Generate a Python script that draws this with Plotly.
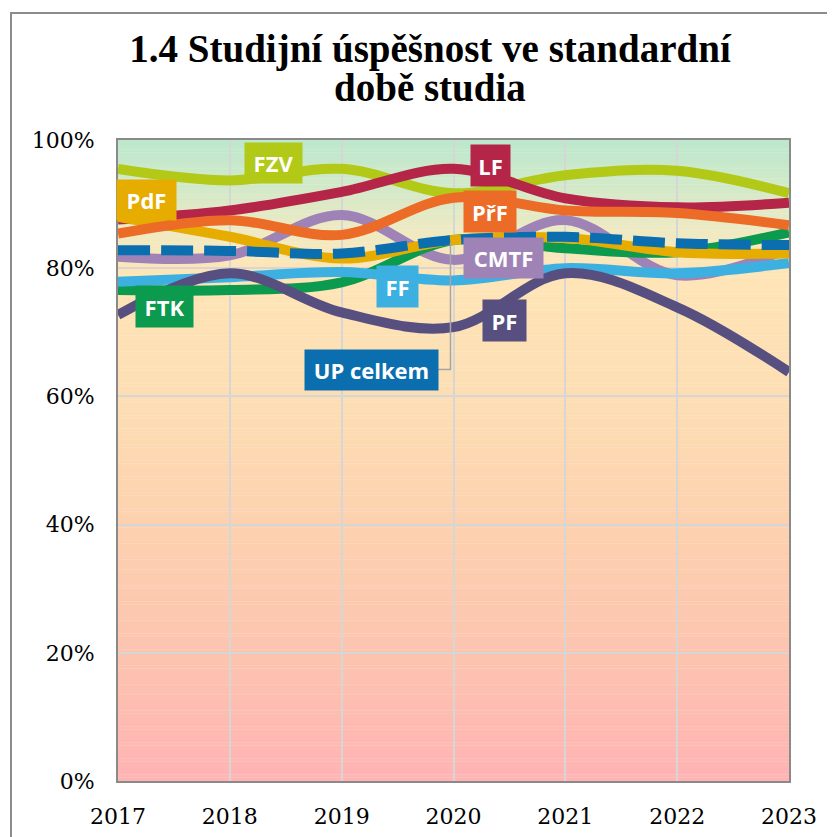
import plotly.graph_objects as go

years = [2017, 2018, 2019, 2020, 2021, 2022, 2023]

series_names = ["CMTF", "FTK", "FZV", "FF", "LF", "PdF", "PF", "PřF", "UP celkem"]
cmtf = [81.8, 82.0, 88.3, 81.3, 87.5, 78.9, 83.1]
ftk = [76.6, 76.6, 77.8, 84.4, 83.1, 82.5, 85.6]
fzv = [95.5, 93.7, 95.5, 91.7, 94.5, 95.2, 91.7]
ff = [77.9, 78.6, 79.4, 78.1, 80.0, 79.2, 80.8]
lf = [87.6, 89.0, 91.9, 95.5, 90.9, 89.5, 90.2]
pdf_ = [88.0, 84.9, 81.5, 84.4, 84.7, 82.5, 82.3]
pf = [72.7, 79.2, 73.1, 70.8, 79.2, 73.9, 63.8]
prf = [85.4, 87.5, 85.2, 91.0, 89.0, 88.6, 86.7]
up = [82.8, 82.7, 82.3, 84.4, 84.9, 83.9, 83.6]

series_values = [cmtf, ftk, fzv, ff, lf, pdf_, pf, prf, up]
colors = ["#9f83b7", "#0b9a4e", "#b2c918", "#3cb1e1", "#b42548",
          "#e6ac00", "#574f80", "#ec6b26", "#0b6eae"]

y_ticks = [0, 20, 40, 60, 80, 100]
y_tick_labels = ["0%", "20%", "40%", "60%", "80%", "100%"]

# label boxes: (name, x, y, width, height)
labels = [
    ("FZV", 2018.393, 96.4, 57, 40),
    ("PdF", 2017.259, 90.6, 59, 40),
    ("FTK", 2017.415, 74.1, 57, 41),
    ("FF", 2019.496, 77.2, 41, 41),
    ("UP celkem", 2019.263, 64.1, 133, 40),
    ("LF", 2020.335, 96.0, 39, 41),
    ("PřF", 2020.330, 88.8, 52, 41),
    ("CMTF", 2020.451, 81.6, 79, 40),
    ("PF", 2020.460, 71.8, 43, 41),
]

fig = go.Figure()

for name, vals, col in zip(series_names, series_values, colors):
    dash = "32px,11px" if name == "UP celkem" else "solid"
    fig.add_trace(go.Scatter(
        x=years, y=vals, mode="lines", name=name,
        line=dict(color=col, width=10, shape="spline", smoothing=1.0, dash=dash),
        showlegend=False,
    ))

# gradient background (decoration)
stops = [
    (0, (255, 179, 179)),
    (20, (252, 196, 175)),
    (40, (253, 209, 175)),
    (60, (253, 222, 180)),
    (80, (254, 229, 182)),
    (86, (238, 234, 195)),
    (92, (212, 233, 200)),
    (100, (188, 232, 204)),
]

def grad(v):
    for (a, ca), (b, cb) in zip(stops[:-1], stops[1:]):
        if a <= v <= b:
            t = (v - a) / (b - a)
            return "rgb(%d,%d,%d)" % tuple(round(ca[i] + (cb[i] - ca[i]) * t) for i in range(3))
    return "rgb(%d,%d,%d)" % stops[-1][1]

shapes = []
step = 0.5
n = int(100 / step)
for i in range(n):
    y0 = i * step
    y1 = y0 + step
    shapes.append(dict(type="rect", xref="x domain", yref="y", x0=0, x1=1,
                       y0=y0, y1=y1 + 0.05, fillcolor=grad(y0 + step / 2),
                       line=dict(width=0), layer="below"))

# leader line for UP celkem
shapes.append(dict(type="path", xref="x", yref="y",
                   path="M 2019.857 64.2 L 2019.973 64.2 L 2019.973 84.0",
                   line=dict(color="#a6a6a6", width=1.5), layer="above"))

# page offset of the plot div (body margin)
OFF = 8
W, H = 835, 837
L = 118 - OFF
T = 140 - OFF
R = (W + OFF) - 789
B = (H + OFF) - 781
pw = W - L - R
ph = H - T - B

def px_x(px):  # page px -> paper x
    return (px - OFF - L) / pw

def px_y(py):  # page px -> paper y
    return (H - B - (py - OFF)) / ph

# outer frame
shapes.append(dict(type="rect", xref="paper", yref="paper",
                   x0=px_x(11), x1=px_x(W + 30),
                   y0=px_y(H + 30), y1=px_y(13),
                   line=dict(color="#8c8c8c", width=2), fillcolor="rgba(0,0,0,0)",
                   layer="above"))

annotations = []
for name, x, y, w, h in labels:
    col = colors[series_names.index(name)]
    annotations.append(dict(x=x, y=y, xref="x", yref="y", text="<b>%s</b>" % name,
                            showarrow=False, bgcolor=col, width=w, height=h,
                            borderpad=0, align="center", valign="middle",
                            font=dict(family="Open Sans", size=22, color="white")))

annotations.append(dict(text="<b>době studia</b>", xref="paper", yref="paper",
                        x=px_x(430), y=px_y(64), xanchor="center",
                        yanchor="top", showarrow=False,
                        font=dict(family="Liberation Serif", size=39, color="black")))

fig.update_layout(
    width=W, height=H,
    margin=dict(l=L, r=R, t=T, b=B),
    paper_bgcolor="white",
    plot_bgcolor="rgba(0,0,0,0)",
    title=dict(text="<b>1.4 Studijní úspěšnost ve standardní</b>",
               x=(430 - OFF) / W, xanchor="center", xref="container",
               y=1 - 27 / H, yanchor="top", yref="container",
               font=dict(family="Liberation Serif", size=39, color="black")),
    shapes=shapes,
    annotations=annotations,
    xaxis=dict(range=[2017, 2023], tickvals=years, ticktext=[str(y) for y in years],
               showgrid=True, gridcolor="#d6d6d6", gridwidth=1.5,
               showline=True, linecolor="#8a8a8a", linewidth=2, mirror=True,
               zeroline=False, ticks="", ticklabelstandoff=15,
               tickfont=dict(family="DejaVu Serif", size=22, color="black")),
    yaxis=dict(range=[0, 100], tickvals=y_ticks, ticktext=y_tick_labels,
               showgrid=True, gridcolor="#d6d6d6", gridwidth=1.5,
               showline=True, linecolor="#8a8a8a", linewidth=2, mirror=True,
               zeroline=False, ticks="", ticklabelstandoff=17,
               tickfont=dict(family="DejaVu Serif", size=22, color="black")),
)

fig.write_html("out.html")
